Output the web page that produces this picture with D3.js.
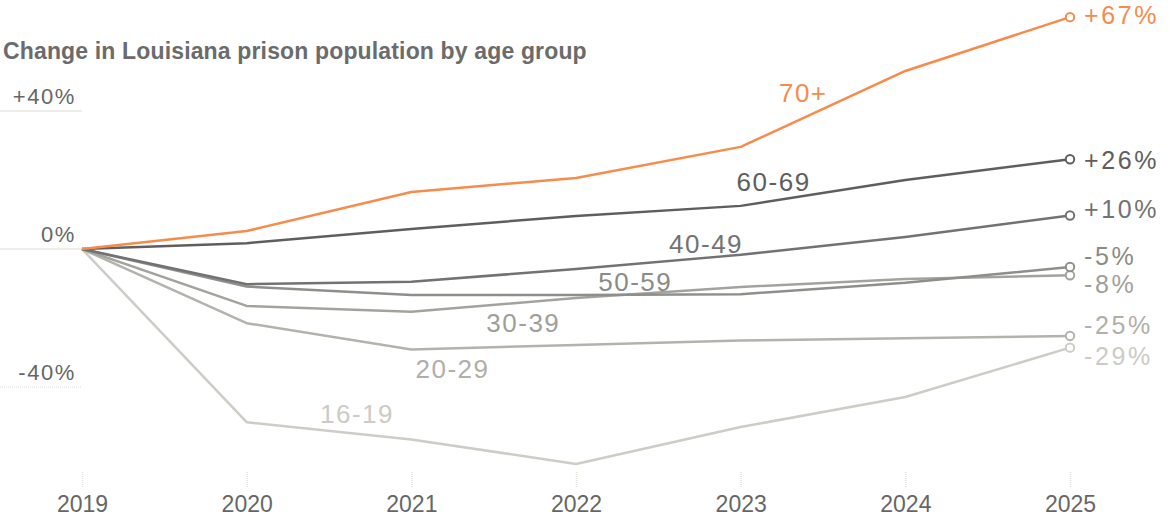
<!DOCTYPE html>
<html>
<head>
	<meta charset="utf-8">
	<title>Louisiana prison population by age group</title>
	<script src="https://cdn.jsdelivr.net/npm/d3@7"></script>
	<style>
		body { margin: 0; background: #fff; }
		svg { display: block; font-family: "Liberation Sans", Arial, sans-serif; }
	</style>
</head>
<body>
	<div id="chartDiv"></div>
	<script>
		// data (percent change since 2019)
		const years = [2019, 2020, 2021, 2022, 2023, 2024, 2025];
		const groups = ['70+', '60-69', '40-49', '50-59', '30-39', '20-29', '16-19'];
		const age70 = [0, 5.2, 16.5, 20.6, 29.6, 51.6, 67.2];
		const age60 = [0, 1.7, 5.8, 9.6, 12.5, 20, 26];
		const age40 = [0, -10.2, -9.5, -5.8, -1.7, 3.5, 9.7];
		const age50 = [0, -10.9, -13.3, -13.3, -13.1, -9.8, -5.2];
		const age30 = [0, -16.5, -18.2, -14.2, -11, -8.7, -7.6];
		const age20 = [0, -21.5, -29.1, -27.8, -26.5, -25.9, -25.2];
		const age16 = [0, -50.2, -55.2, -62.3, -51.6, -42.9, -28.6];
		const endLabels = ['+67%', '+26%', '+10%', '-5%', '-8%', '-25%', '-29%'];
		const yTicks = [40, 0, -40];
		const yTickLabels = ['+40%', '0%', '-40%'];

		const seriesValues = [age70, age60, age40, age50, age30, age20, age16];

		// styling
		const colors = ['#f68b4c', '#5e5e5e', '#727272', '#8e8e8a', '#a3a39e', '#b3b2ac', '#cdccc6'];
		const labelColors = ['#f68b4c', '#5e5e5e', '#727272', '#8a8a86', '#9f9f9a', '#b0afa9', '#cccbc5'];
		// where the group names sit, in data units [year, value]
		const namePos = [[2023.38, 45.2], [2023.2, 19.4], [2022.79, 1.4], [2022.36, -9.6], [2021.68, -21.4], [2021.25, -34.8], [2020.67, -47.8]];
		// vertical nudges for the end labels so they do not collide
		const endNudge = [-2, 1, -6, -11, 9, -11, 9];

		const width = 1170, height = 528;

		const svg = d3.select('#chartDiv').append('svg')
			.attr('width', width)
			.attr('height', height);

		const xScale = d3.scaleLinear()
			.domain([2019, 2025])
			.range([82, 1070]);
		const yScale = d3.scaleLinear()
			.domain([-40, 40])
			.range([387, 111]);

		//title
		svg.append('text')
			.attr('x', 3)
			.attr('y', 59)
			.attr('font-size', 23)
			.attr('font-weight', 700)
			.attr('fill', '#6b6b6b')
			.attr('letter-spacing', 0.15)
			.text('Change in Louisiana prison population by age group');

		//y gridlines + labels
		const yG = svg.append('g').attr('class', 'axis y');
		const yTick = yG.selectAll('.ytick')
			.data(yTicks)
			.enter().append('g')
			.attr('class', 'ytick')
			.attr('transform', d => `translate(0,${yScale(d)})`);
		yTick.append('line')
			.attr('x1', 0)
			.attr('x2', xScale(2019))
			.attr('stroke', '#e8e7e2')
			.attr('stroke-width', 1.5)
			.attr('stroke-dasharray', d => d < 0 ? '1,1' : null);
		yTick.append('text')
			.attr('x', 76)
			.attr('y', -7)
			.attr('text-anchor', 'end')
			.attr('font-size', 22)
			.attr('letter-spacing', 1.6)
			.attr('fill', '#666')
			.text((d, i) => yTickLabels[i]);

		//x axis
		const xAxis = d3.axisBottom(xScale)
			.tickValues(years)
			.tickFormat(d3.format('d'))
			.tickSize(15)
			.tickPadding(9);
		const xAxisG = svg.append('g')
			.attr('class', 'axis x')
			.attr('transform', 'translate(0,472)')
			.call(xAxis);
		xAxisG.select('.domain').remove();
		xAxisG.selectAll('.tick line')
			.attr('stroke', '#e2e1dc')
			.attr('stroke-width', 1.5)
			.attr('stroke-dasharray', '1,1');
		xAxisG.selectAll('.tick text')
			.attr('font-size', 23)
			.attr('font-family', '"Liberation Sans", Arial, sans-serif')
			.attr('fill', '#666');

		//lines, drawn back to front
		const line = d3.line()
			.x((d, i) => xScale(years[i]))
			.y(d => yScale(d));

		const order = d3.range(groups.length).reverse();
		const layer = svg.selectAll('.layer')
			.data(order)
			.enter().append('g')
			.attr('class', 'layer');

		layer.append('path')
			.attr('fill', 'none')
			.attr('stroke', i => colors[i])
			.attr('stroke-width', 2.5)
			.attr('stroke-linejoin', 'round')
			.attr('d', i => line(seriesValues[i]));

		layer.append('circle')
			.attr('cx', xScale(2025))
			.attr('cy', i => yScale(seriesValues[i][years.length - 1]))
			.attr('r', 4.2)
			.attr('fill', '#fff')
			.attr('stroke', i => colors[i])
			.attr('stroke-width', 2);

		layer.append('text')
			.attr('x', xScale(2025) + 14)
			.attr('y', i => yScale(seriesValues[i][years.length - 1]) + endNudge[i])
			.attr('dy', '0.35em')
			.attr('font-size', 25)
			.attr('letter-spacing', 2.6)
			.attr('fill', i => labelColors[i])
			.text(i => endLabels[i]);

		layer.append('text')
			.attr('x', i => xScale(namePos[i][0]))
			.attr('y', i => yScale(namePos[i][1]))
			.attr('dy', '0.35em')
			.attr('text-anchor', 'middle')
			.attr('font-size', 26)
			.attr('letter-spacing', 1.5)
			.attr('fill', i => labelColors[i])
			.text(i => groups[i]);
	</script>
</body>
</html>
